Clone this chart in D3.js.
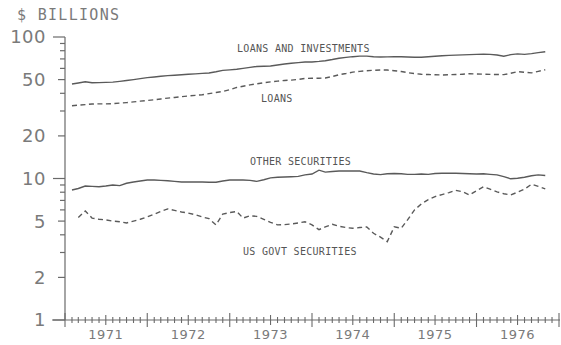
<!DOCTYPE html>
<html>
<head>
<meta charset="utf-8">
<script src="https://cdn.jsdelivr.net/npm/d3@7"></script>
<style>
  body { margin: 0; background: #fff; }
  svg { display: block; }
  .tick-label { font-family: 'DejaVu Sans', sans-serif; fill: #7a7a7a; }
  .series-label { font-family: 'DejaVu Sans Mono', monospace; font-size: 10px; fill: #555; letter-spacing: 0.3px; }
</style>
</head>
<body>
<div class="svg-container"></div>
<script>
// monthly values, Feb 1971 .. Nov 1976 ($ billions)
var loansInvest = [
  46.5, 47.3, 48.3, 47.5, 47.6, 47.8, 48.0, 48.6, 49.3, 50.0,
  50.8, 51.6, 52.2, 52.8, 53.3, 53.7, 54.1, 54.5, 54.9, 55.3,
  55.7, 56.8, 58.1, 58.6, 59.2, 60.0, 61.0, 61.9, 62.2, 62.4,
  63.4, 64.5, 65.3, 65.9, 66.6, 66.6, 67.2, 68.0, 69.3, 70.8,
  71.8, 72.6, 73.2, 73.2, 72.5, 72.3, 72.4, 72.6, 72.5, 72.3,
  72.0, 71.9, 72.5, 73.1, 73.7, 74.1, 74.5, 74.8, 75.1, 75.4,
  75.5, 75.4, 74.6, 73.2, 75.0, 76.0, 75.4, 76.3, 77.5, 78.7
];
var loans = [
  32.7, 33.0, 33.3, 33.6, 33.7, 33.7, 33.8, 34.1, 34.4, 34.8,
  35.2, 35.6, 36.0, 36.5, 37.0, 37.4, 37.9, 38.3, 38.7, 39.1,
  39.8, 40.5, 41.2, 42.4, 44.0, 44.9, 45.9, 46.7, 47.5, 48.2,
  48.8, 49.3, 49.6, 50.2, 50.9, 51.1, 51.1, 51.3, 52.6, 54.1,
  55.2, 56.5, 57.2, 57.7, 58.2, 58.5, 58.4, 57.8, 57.0, 56.0,
  55.2, 54.5, 54.3, 54.1, 53.9, 54.1, 54.3, 54.6, 55.0, 54.8,
  54.6, 54.4, 54.3, 54.2, 55.4, 56.9, 56.3, 55.8, 57.2, 58.7
];
var otherSec = [
  8.3, 8.5, 8.85, 8.8, 8.75, 8.85, 9.0, 8.9, 9.25, 9.45,
  9.6, 9.75, 9.75, 9.7, 9.65, 9.55, 9.45, 9.45, 9.45, 9.45,
  9.4, 9.4, 9.6, 9.75, 9.75, 9.75, 9.7, 9.55, 9.8, 10.1,
  10.2, 10.25, 10.3, 10.35, 10.6, 10.75, 11.45, 11.1, 11.2, 11.3,
  11.3, 11.3, 11.3, 11.0, 10.75, 10.65, 10.8, 10.85, 10.8, 10.7,
  10.7, 10.75, 10.7, 10.85, 10.9, 10.9, 10.9, 10.85, 10.8, 10.75,
  10.8, 10.7, 10.6, 10.3, 9.95, 10.05, 10.2, 10.45, 10.6, 10.5
];
var govtSec = [
  null, 5.3, 5.9, 5.25, 5.15, 5.1, 5.0, 4.95, 4.85, 5.0,
  5.15, 5.35, 5.6, 5.85, 6.1, 5.95, 5.8, 5.7, 5.55, 5.35,
  5.2, 4.7, 5.6, 5.75, 5.85, 5.25, 5.45, 5.4, 5.15, 4.9,
  4.7, 4.72, 4.77, 4.85, 4.95, 4.7, 4.35, 4.55, 4.75, 4.6,
  4.5, 4.45, 4.5, 4.55, 4.1, 3.85, 3.58, 4.55, 4.45, 5.1,
  6.0, 6.6, 7.1, 7.45, 7.7, 7.95, 8.25, 8.05, 7.65, 8.2,
  8.75, 8.4, 8.05, 7.8, 7.65, 8.0, 8.4, 9.1, 8.8, 8.45
];
var months = d3.timeMonth.range(new Date(1971, 1, 1), new Date(1976, 11, 1));
var years = ['1971', '1972', '1973', '1974', '1975', '1976'];
var yTicks = [1, 2, 3, 4, 5, 6, 7, 8, 9, 10, 20, 30, 40, 50, 60, 70, 80, 90, 100];
var yLabels = [1, 2, 5, 10, 20, 50, 100];

var svg = d3.select('.svg-container').append('svg')
  .attr('width', 561)
  .attr('height', 345);

var x = d3.scaleTime()
  .domain([new Date(1971, 0, 1), new Date(1977, 0, 1)])
  .range([65, 559]);
var y = d3.scaleLog()
  .domain([1, 100])
  .range([320, 37]);

var axisColor = '#6a6a6a';

// y axis
svg.append('line')
  .attr('x1', 65).attr('x2', 65)
  .attr('y1', y(100)).attr('y2', y(1))
  .attr('stroke', axisColor).attr('stroke-width', 1.2);

svg.selectAll('.ytick')
  .data(yTicks)
  .enter().append('line')
  .attr('class', 'ytick')
  .attr('x1', function(d) {
    var lg = Math.log10(d);
    if (lg === Math.round(lg)) return 53;
    return yLabels.indexOf(d) >= 0 ? 58 : 60;
  })
  .attr('x2', 65)
  .attr('y1', function(d) { return y(d); })
  .attr('y2', function(d) { return y(d); })
  .attr('stroke', axisColor).attr('stroke-width', 1.2);

svg.selectAll('.ylabel')
  .data(yLabels)
  .enter().append('text')
  .attr('class', 'tick-label')
  .attr('x', 46)
  .attr('y', function(d) { return y(d); })
  .attr('dy', '0.36em')
  .attr('text-anchor', 'end')
  .style('font-size', '18px')
  .style('letter-spacing', '0.5px')
  .text(function(d) { return d; });

svg.append('text')
  .attr('class', 'tick-label')
  .attr('x', 17).attr('y', 20)
  .style('font-family', "'DejaVu Sans Mono', monospace")
  .style('font-size', '15px')
  .style('letter-spacing', '1.3px')
  .text('$ BILLIONS');

// x axis
svg.append('line')
  .attr('x1', 52).attr('x2', 560)
  .attr('y1', 320).attr('y2', 320)
  .attr('stroke', axisColor).attr('stroke-width', 1.2);

var tickMonths = d3.timeMonth.range(new Date(1971, 0, 1), new Date(1977, 0, 2));
svg.selectAll('.xtick')
  .data(tickMonths)
  .enter().append('line')
  .attr('class', 'xtick')
  .attr('x1', function(d) { return x(d); })
  .attr('x2', function(d) { return x(d); })
  .attr('y1', function(d) { return 320 - (d.getMonth() === 0 ? 7 : d.getMonth() === 6 ? 5 : 3); })
  .attr('y2', function(d) { return 320 + (d.getMonth() === 0 ? 7 : d.getMonth() === 6 ? 5 : 3); })
  .attr('stroke', axisColor).attr('stroke-width', 1.1);

svg.selectAll('.xlabel')
  .data(years)
  .enter().append('text')
  .attr('class', 'tick-label')
  .attr('x', function(d) { return x(new Date(+d, 6, 1)); })
  .attr('y', 339)
  .attr('text-anchor', 'middle')
  .style('font-size', '13px')
  .style('letter-spacing', '0.5px')
  .text(function(d) { return d; });

// series
var line = d3.line()
  .defined(function(d) { return d != null; })
  .x(function(d, i) { return x(months[i]); })
  .y(function(d) { return y(d); });

var series = [
  { values: loansInvest, dash: null },
  { values: loans, dash: '5,3.5' },
  { values: otherSec, dash: null },
  { values: govtSec, dash: '5,3.5' }
];

svg.selectAll('.series')
  .data(series)
  .enter().append('path')
  .attr('class', 'series')
  .attr('d', function(d) { return line(d.values); })
  .attr('fill', 'none')
  .attr('stroke', '#5a5a5a')
  .attr('stroke-width', 1.4)
  .attr('stroke-dasharray', function(d) { return d.dash; });

// series labels
svg.append('text').attr('class', 'series-label').attr('x', 237).attr('y', 52).text('LOANS AND INVESTMENTS');
svg.append('text').attr('class', 'series-label').attr('x', 261).attr('y', 102).text('LOANS');
svg.append('text').attr('class', 'series-label').attr('x', 250).attr('y', 165).text('OTHER SECURITIES');
svg.append('text').attr('class', 'series-label').attr('x', 243).attr('y', 255).text('US GOVT SECURITIES');
</script>
</body>
</html>
